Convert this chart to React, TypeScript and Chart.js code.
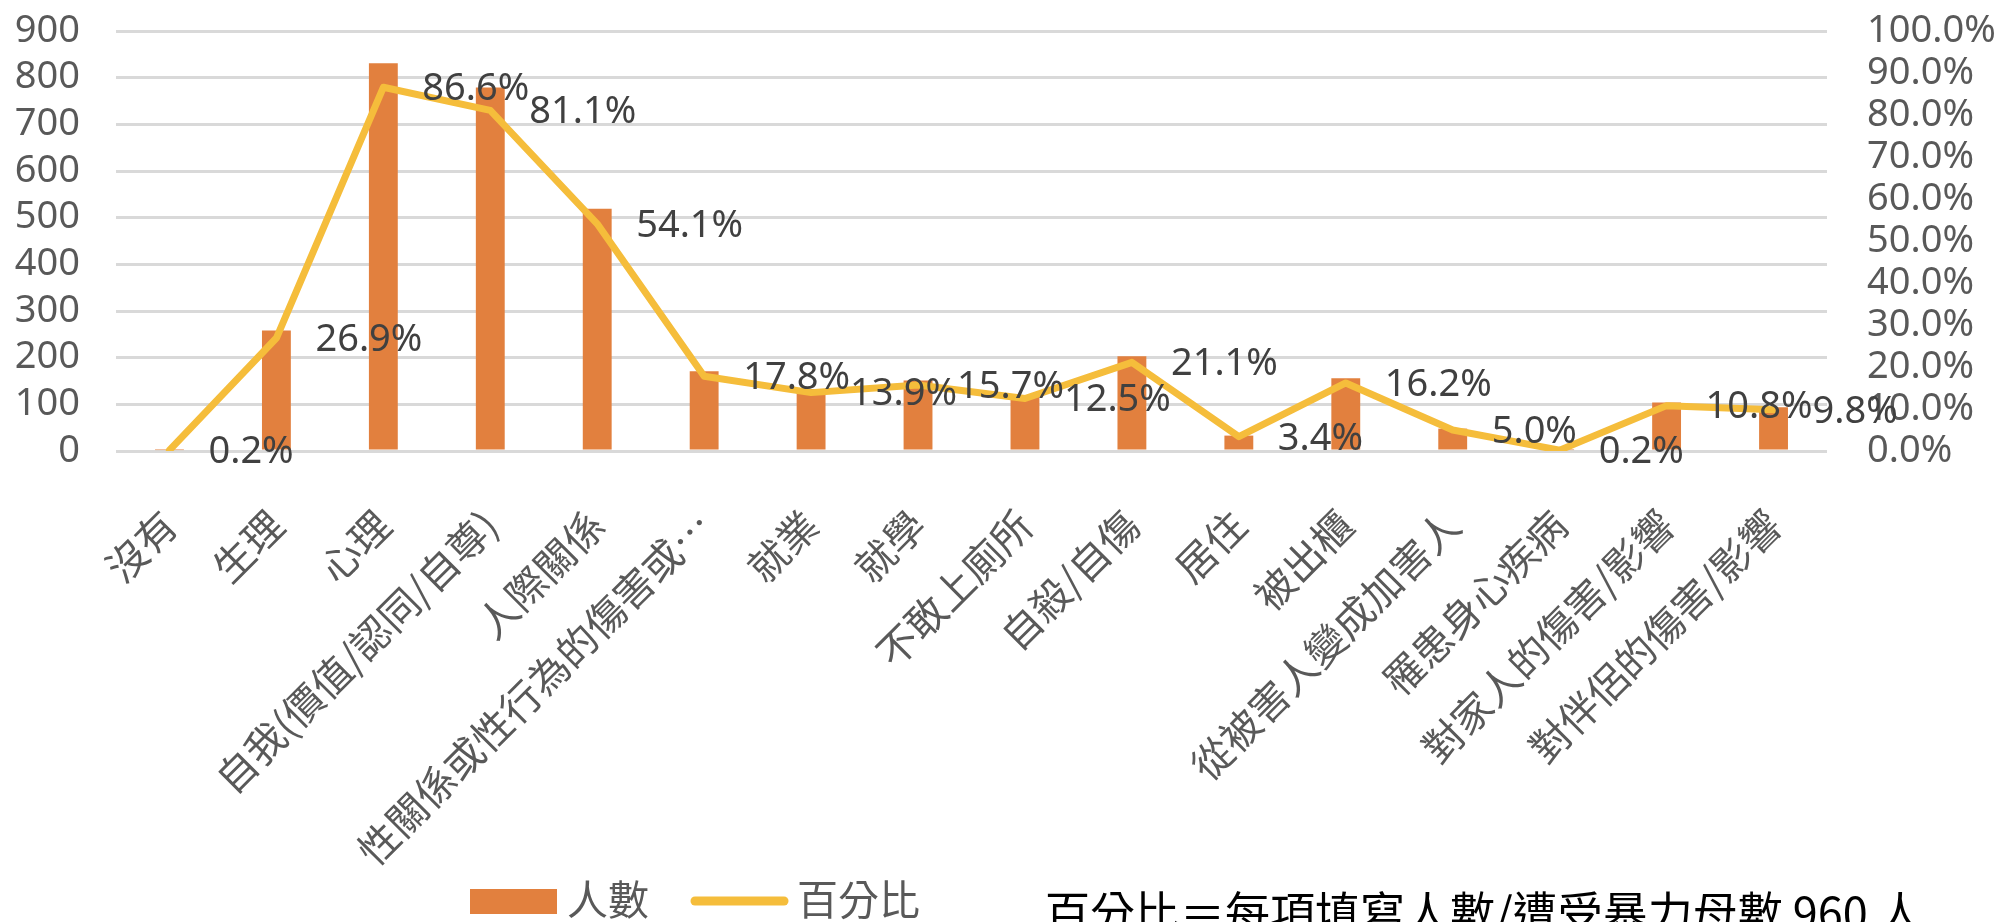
import React, { useEffect, useRef } from "react";
import { Chart, registerables } from "chart.js";

Chart.register(...registerables);

const categories = [
  "沒有",
  "生理",
  "心理",
  "自我(價值/認同/自尊)",
  "人際關係",
  "性關係或性行為的傷害或…",
  "就業",
  "就學",
  "不敢上廁所",
  "自殺/自傷",
  "居住",
  "被出櫃",
  "從被害人變成加害人",
  "罹患身心疾病",
  "對家人的傷害/影響",
  "對伴侶的傷害/影響",
];
const counts = [2, 258, 831, 779, 519, 171, 133, 151, 120, 203, 33, 156, 48, 2, 104, 94];
const percents = [0.2, 26.9, 86.6, 81.1, 54.1, 17.8, 13.9, 15.7, 12.5, 21.1, 3.4, 16.2, 5.0, 0.2, 10.8, 9.8];
const countAxisMax = 900;
const countAxisStep = 100;
const percentAxisMax = 100;
const percentAxisStep = 10;
const seriesNames = ["人數", "百分比"];
const noteText = "百分比＝每項填寫人數/遭受暴力母數 960 人";

const BAR_COLOR = "#E2803E";
const LINE_COLOR = "#F5BD3B";
const NUM_FONT = "'Noto Sans', 'Noto Sans CJK TC', sans-serif";
const CJK_FONT = "'Noto Sans CJK TC', 'Noto Sans', sans-serif";

const W = 1995;
const H = 922;
const PLOT_TOP = 31;
const PLOT_BOTTOM = 451;
const PLOT_LEFT = 116;
const PLOT_RIGHT = 1827;

const overlayPlugin = {
  id: "overlay",
  afterDatasetsDraw(chart: any) {
    const ctx = chart.ctx;
    const meta = chart.getDatasetMeta(1);
    ctx.save();
    ctx.font = `38px ${NUM_FONT}`;
    ctx.fillStyle = "#404040";
    ctx.textAlign = "left";
    ctx.textBaseline = "middle";
    meta.data.forEach((pt: any, i: number) => {
      ctx.fillText(percents[i].toFixed(1) + "%", pt.x + 39, pt.y + 2);
    });
    ctx.restore();
  },
  afterDraw(chart: any) {
    const ctx = chart.ctx;
    ctx.save();
    // legend
    ctx.fillStyle = BAR_COLOR;
    ctx.fillRect(470, 889, 87, 25);
    ctx.font = `41px ${CJK_FONT}`;
    ctx.fillStyle = "#595959";
    ctx.textAlign = "left";
    ctx.textBaseline = "middle";
    ctx.fillText(seriesNames[0], 567, 899);
    ctx.strokeStyle = LINE_COLOR;
    ctx.lineWidth = 9;
    ctx.lineCap = "round";
    ctx.beginPath();
    ctx.moveTo(695, 901);
    ctx.lineTo(784, 901);
    ctx.stroke();
    ctx.fillText(seriesNames[1], 797, 899);
    // note
    ctx.font = `45px ${CJK_FONT}`;
    ctx.fillStyle = "#000000";
    ctx.textBaseline = "top";
    ctx.fillText(noteText, 1045, 890);
    ctx.restore();
  },
};

export default function App() {
  const ref = useRef<HTMLCanvasElement | null>(null);

  useEffect(() => {
    if (!ref.current) return;
    const chart = new Chart(ref.current, {
      type: "bar",
      data: {
        labels: categories,
        datasets: [
          {
            type: "bar",
            label: seriesNames[0],
            data: counts,
            backgroundColor: BAR_COLOR,
            yAxisID: "y",
            barPercentage: 0.27,
            categoryPercentage: 1,
            order: 2,
          },
          {
            type: "line",
            label: seriesNames[1],
            data: percents,
            borderColor: LINE_COLOR,
            backgroundColor: LINE_COLOR,
            borderWidth: 7,
            pointRadius: 0,
            tension: 0,
            borderJoinStyle: "round",
            borderCapStyle: "round",
            yAxisID: "y1",
            order: 1,
          } as any,
        ],
      },
      options: {
        responsive: false,
        animation: false,
        devicePixelRatio: 1,
        layout: { padding: { top: PLOT_TOP, left: 0, right: 0, bottom: 0 } },
        plugins: {
          legend: { display: false },
          tooltip: { enabled: false },
        },
        scales: {
          x: {
            offset: true,
            grid: { display: false, drawTicks: false },
            border: { display: false },
            ticks: {
              autoSkip: false,
              minRotation: 45,
              maxRotation: 45,
              padding: 50,
              labelOffset: 0,
              color: "#595959",
              font: { size: 40, family: CJK_FONT },
            },
            afterFit: (s: any) => {
              s.height = H - PLOT_BOTTOM;
            },
          },
          y: {
            position: "left",
            min: 0,
            max: countAxisMax,
            grid: {
              color: "#D9D9D9",
              lineWidth: 3,
              drawTicks: true,
              tickLength: 36,
              tickColor: "rgba(0,0,0,0)",
            },
            border: { display: false },
            ticks: {
              autoSkip: false,
              stepSize: countAxisStep,
              padding: 0,
              color: "#595959",
              font: { size: 38, family: NUM_FONT },
            },
            afterFit: (s: any) => {
              s.width = PLOT_LEFT;
            },
          },
          y1: {
            position: "right",
            min: 0,
            max: percentAxisMax,
            grid: {
              drawOnChartArea: false,
              drawTicks: true,
              tickLength: 40,
              tickColor: "rgba(0,0,0,0)",
            },
            border: { display: false },
            ticks: {
              autoSkip: false,
              stepSize: percentAxisStep,
              padding: 0,
              color: "#595959",
              font: { size: 38, family: NUM_FONT },
              callback: (v: any) => Number(v).toFixed(1) + "%",
            },
            afterFit: (s: any) => {
              s.width = W - PLOT_RIGHT;
            },
          },
        },
      },
      plugins: [overlayPlugin],
    });
    return () => chart.destroy();
  }, []);

  return (
    <div style={{ position: "absolute", left: 0, top: 0, width: W, height: H, background: "#fff" }}>
      <canvas ref={ref} width={W} height={H} style={{ display: "block", width: W, height: H }} />
    </div>
  );
}
